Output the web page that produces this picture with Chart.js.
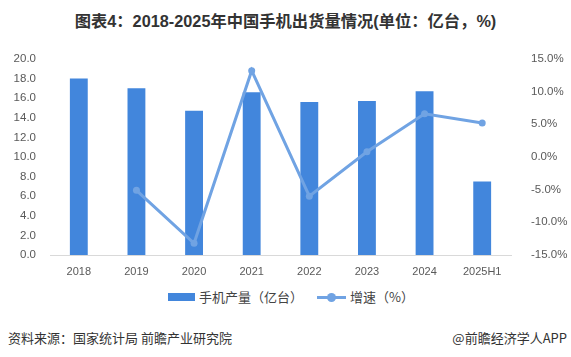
<!DOCTYPE html>
<html><head><meta charset="utf-8">
<script src="https://cdn.jsdelivr.net/npm/chart.js@4/dist/chart.umd.min.js"></script>
<style>
html,body{margin:0;padding:0;background:#fff;}
body{width:571px;height:357px;position:relative;overflow:hidden;font-family:"Liberation Sans","Noto Sans CJK SC",sans-serif;}
#title{position:absolute;left:0;top:8px;width:571px;text-align:center;font-size:16.3px;font-weight:bold;color:#333;}
#wrap{position:absolute;left:0;top:40px;width:571px;height:240px;}
#legend{position:absolute;top:288px;left:0;width:571px;height:18px;font-size:13px;color:#444;font-family:"Noto Sans CJK SC",sans-serif;}
.lg{position:absolute;top:0;line-height:18px;}
#src{position:absolute;left:8px;top:328px;font-size:13px;color:#333;font-family:"Noto Sans CJK SC",sans-serif;}
#src2{position:absolute;right:4px;top:328px;font-size:13px;color:#333;font-family:"Noto Sans CJK SC",sans-serif;}
</style></head>
<body>
<div id="title">图表4：2018-2025年中国手机出货量情况(单位：亿台，%)</div>
<div id="wrap"><canvas id="c" width="571" height="240"></canvas></div>
<div id="legend">
  <div style="position:absolute;left:168px;top:5px;width:27px;height:8px;background:#4286dc"></div>
  <div class="lg" style="left:199px">手机产量（亿台）</div>
  <div style="position:absolute;left:317px;top:8px;width:29px;height:3px;background:#70a3e3"></div>
  <div style="position:absolute;left:327px;top:5px;width:9px;height:9px;border-radius:50%;background:#70a3e3"></div>
  <div class="lg" style="left:350px">增速（%）</div>
</div>
<div id="src">资料来源：国家统计局 前瞻产业研究院</div>
<div id="src2">@前瞻经济学人APP</div>
<script>
const categories = ["2018","2019","2020","2021","2022","2023","2024","2025H1"];
const output = [18.0, 17.0, 14.7, 16.6, 15.6, 15.7, 16.7, 7.5];
const growth = [null, -5.1, -13.2, 13.2, -6.0, 0.8, 6.6, 5.2];
const leftTicks = [0,2,4,6,8,10,12,14,16,18,20];
const rightTicks = [-15,-10,-5,0,5,10,15];

const tickFont = {family:"Liberation Sans, Arial, sans-serif", size:11};
const yFont = {family:"Liberation Sans, Arial, sans-serif", size:11.5};
new Chart(document.getElementById('c'), {
  data: {
    labels: categories,
    datasets: [
      {type:'line', label:'增速（%）', data: growth, yAxisID:'y1', borderColor:'#70a3e3', backgroundColor:'#70a3e3', borderWidth:3, pointRadius:3.5, pointBackgroundColor:'#70a3e3', pointBorderWidth:0, tension:0, spanGaps:false, order:0},
      {type:'bar', label:'手机产量（亿台）', data: output, yAxisID:'y', backgroundColor:'#4286dc', categoryPercentage:1, barPercentage:0.31, order:1}
    ]
  },
  options: {
    responsive:false, animation:false, maintainAspectRatio:false,
    layout:{padding:{top:18,left:0,right:0,bottom:0}},
    plugins:{legend:{display:false}, title:{display:false}, tooltip:{enabled:false}},
    scales:{
      x:{grid:{display:false, drawTicks:false}, border:{display:true,color:'#d9d9d9',width:1},
         ticks:{color:'#595959', font:tickFont, padding:10},
         afterFit(s){s.height=25;}},
      y:{position:'left', min:0, max:20, grid:{display:false}, border:{display:false},
         afterBuildTicks(s){s.ticks = leftTicks.map(v=>({value:v}));},
         ticks:{color:'#595959', font:yFont, padding:6, callback:v=>v.toFixed(1)},
         afterFit(s){s.width=50;}},
      y1:{position:'right', min:-15, max:15, grid:{display:false}, border:{display:false},
         afterBuildTicks(s){s.ticks = rightTicks.map(v=>({value:v}));},
         ticks:{color:'#595959', font:yFont, padding:12, callback:v=>v.toFixed(1)+'%'},
         afterFit(s){s.width=60;}}
    }
  }
});
</script>
</body></html>
